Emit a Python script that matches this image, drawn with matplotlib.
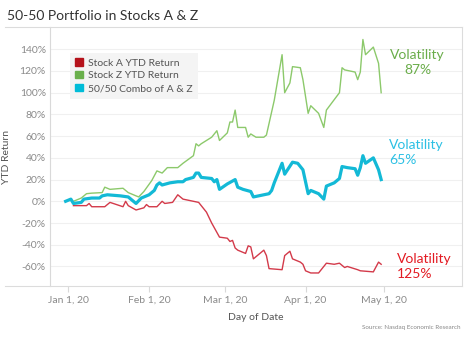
import pandas as pd
import matplotlib.pyplot as plt
from matplotlib.lines import Line2D
from matplotlib.patches import Patch

plt.rcParams['font.family'] = ['Lato', 'DejaVu Sans']

# Stock Z YTD return (%)
z_dates = ['2020-01-03', '2020-01-06', '2020-01-08', '2020-01-10', '2020-01-14', '2020-01-15',
           '2020-01-17', '2020-01-22', '2020-01-24', '2020-01-28', '2020-01-30', '2020-02-02',
           '2020-02-04', '2020-02-06', '2020-02-08', '2020-02-12', '2020-02-14', '2020-02-18',
           '2020-02-19', '2020-02-20', '2020-02-21', '2020-02-25', '2020-02-27', '2020-02-28',
           '2020-03-02', '2020-03-03', '2020-03-04', '2020-03-05', '2020-03-06', '2020-03-09',
           '2020-03-10', '2020-03-11', '2020-03-13', '2020-03-16', '2020-03-17', '2020-03-20',
           '2020-03-23', '2020-03-24', '2020-03-26', '2020-03-27', '2020-03-30', '2020-03-31',
           '2020-04-02', '2020-04-03', '2020-04-06', '2020-04-08', '2020-04-09', '2020-04-14',
           '2020-04-15', '2020-04-16', '2020-04-20', '2020-04-21', '2020-04-22', '2020-04-23',
           '2020-04-24', '2020-04-27', '2020-04-29', '2020-04-30']
z_ret = [0, 3, 7, 7.5, 8, 13,
         11, 12, 8, 4, 9, 19,
         28, 26, 31, 31, 35, 42,
         53, 51, 53, 59, 65, 56,
         63, 73, 73, 84, 68, 68,
         59, 62, 59, 59, 61, 93,
         135, 100, 109, 124, 123, 112,
         81, 88, 81, 68, 84, 100,
         123, 121, 119, 112, 119, 149,
         135, 142, 127, 100]

# Stock A YTD return (%)
a_dates = ['2020-01-03', '2020-01-08', '2020-01-09', '2020-01-10', '2020-01-15', '2020-01-17',
           '2020-01-22', '2020-01-23', '2020-01-24', '2020-01-27', '2020-01-30', '2020-01-31',
           '2020-02-01', '2020-02-04', '2020-02-06', '2020-02-07', '2020-02-10', '2020-02-12',
           '2020-02-14', '2020-02-20', '2020-02-23', '2020-02-25', '2020-02-28', '2020-03-02',
           '2020-03-03', '2020-03-04', '2020-03-05', '2020-03-06', '2020-03-09', '2020-03-10',
           '2020-03-11', '2020-03-12', '2020-03-16', '2020-03-17', '2020-03-18', '2020-03-23',
           '2020-03-24', '2020-03-26', '2020-03-27', '2020-03-30', '2020-03-31', '2020-04-01',
           '2020-04-03', '2020-04-06', '2020-04-09', '2020-04-12', '2020-04-14', '2020-04-16',
           '2020-04-17', '2020-04-21', '2020-04-22', '2020-04-27', '2020-04-29', '2020-04-30']
a_ret = [-4, -4, -2, -5, -5, -1,
         -5, 0, -4, -8, -6, -3,
         -5, -5, 0, -2, -1, 6,
         2, -1, -10, -20, -33, -34,
         -37, -36, -43, -45, -48, -41,
         -42, -53, -45, -50, -62, -63,
         -50, -46, -53, -56, -58, -64,
         -66, -66, -57, -58, -57, -61,
         -60, -63, -64, -65, -56, -58]

# 50/50 combination of A & Z (%)
c_dates = ['2019-12-31', '2020-01-02', '2020-01-03', '2020-01-06', '2020-01-07', '2020-01-10',
           '2020-01-13', '2020-01-14', '2020-01-16', '2020-01-21', '2020-01-24', '2020-01-27',
           '2020-01-29', '2020-02-01', '2020-02-03', '2020-02-04', '2020-02-05', '2020-02-06',
           '2020-02-09', '2020-02-12', '2020-02-14', '2020-02-15', '2020-02-18', '2020-02-19',
           '2020-02-20', '2020-02-21', '2020-02-25', '2020-02-26', '2020-02-27', '2020-02-28',
           '2020-03-02', '2020-03-05', '2020-03-06', '2020-03-08', '2020-03-11', '2020-03-12',
           '2020-03-16', '2020-03-18', '2020-03-19', '2020-03-20', '2020-03-23', '2020-03-24',
           '2020-03-27', '2020-03-29', '2020-03-31', '2020-04-02', '2020-04-03', '2020-04-06',
           '2020-04-08', '2020-04-09', '2020-04-12', '2020-04-14', '2020-04-15', '2020-04-17',
           '2020-04-20', '2020-04-21', '2020-04-22', '2020-04-23', '2020-04-24', '2020-04-27',
           '2020-04-29', '2020-04-30']
c_ret = [0, 2, -2, -1, 2, 3,
         3, 5, 6, 5, 4, -2,
         3, 6, 10, 15, 17, 15,
         17, 18, 18, 20, 22, 26,
         26, 22, 21, 18, 20, 11,
         16, 20, 13, 11, 9, 4,
         6, 7, 10, 17, 35, 25,
         36, 35, 29, 7, 10, 7,
         2, 14, 17, 21, 32, 31,
         30, 24, 31, 42, 35, 40,
         29, 20]

y_ticks = [-60, -40, -20, 0, 20, 40, 60, 80, 100, 120, 140]
x_ticks = ['2020-01-01', '2020-02-01', '2020-03-01', '2020-04-01', '2020-05-01']
x_tick_labels = ['Jan 1, 20', 'Feb 1, 20', 'Mar 1, 20', 'Apr 1, 20', 'May 1, 20']

red = '#d33a4a'
green = '#8cc96b'
cyan = '#13b9d6'

fig = plt.figure(figsize=(4.68, 3.40), dpi=100)
ax = fig.add_axes([50 / 468, 54 / 340, 412 / 468, 259 / 340])

ax.plot(pd.to_datetime(z_dates), z_ret, color=green, lw=1.0, zorder=3)
ax.plot(pd.to_datetime(a_dates), a_ret, color=red, lw=1.0, zorder=3)
ax.plot(pd.to_datetime(c_dates), c_ret, color=cyan, lw=2.3, zorder=4, solid_joinstyle='round')

ax.set_ylim(-78, 160.5)
ax.set_xlim(pd.Timestamp('2019-12-25'), pd.Timestamp('2020-05-31'))
ax.set_yticks(y_ticks)
ax.set_yticklabels([f'{v}%' for v in y_ticks])
ax.set_xticks(pd.to_datetime(x_ticks))
ax.set_xticklabels(x_tick_labels)
ax.tick_params(axis='y', length=0, labelsize=7.5, labelcolor='#8a8a8a', pad=3)
ax.tick_params(axis='x', length=4, color='#d9d9d9', labelsize=7.5, labelcolor='#8a8a8a', pad=3)
ax.grid(axis='y', color='#f0f0f0', lw=0.8)
ax.set_axisbelow(True)
for s in ['top', 'bottom', 'right']:
    ax.spines[s].set_visible(False)
ax.spines['left'].set_color('#d9d9d9')
ax.spines['left'].set_linewidth(0.8)

ax.set_ylabel('YTD Return', fontsize=7.5, color='#555555', labelpad=6)
ax.set_xlabel('Day of Date', fontsize=7.5, color='#555555', labelpad=6)

# frame lines around the view
fig.add_artist(Line2D([5 / 468, 462 / 468], [313 / 340, 313 / 340], color='#dcdcdc', lw=0.8))
fig.add_artist(Line2D([5 / 468, 462 / 468], [54 / 340, 54 / 340], color='#dcdcdc', lw=0.8))
fig.add_artist(Line2D([462 / 468, 462 / 468], [54 / 340, 313 / 340], color='#dcdcdc', lw=0.8))

fig.text(7 / 468, 324 / 340, '50-50 Portfolio in Stocks A & Z', fontsize=10, color='#333333',
         va='center', ha='left')
fig.text(461 / 468, 13 / 340, 'Source: Nasdaq Economic Research', fontsize=4.5, color='#888888',
         va='center', ha='right')

# volatility notes
ax.text(pd.Timestamp('2020-05-14'), 128, 'Volatility\n87%', color='#6aad4a', fontsize=10,
        ha='center', va='center', linespacing=1.25)
ax.text(pd.Timestamp('2020-05-03'), 45, 'Volatility\n65%', color='#2cc0e4', fontsize=10,
        ha='left', va='center', linespacing=1.25)
ax.text(pd.Timestamp('2020-05-06'), -60, 'Volatility\n125%', color='#e31b23', fontsize=10,
        ha='left', va='center', linespacing=1.25)

handles = [Patch(color='#b5121b'), Patch(color='#6ab04c'), Patch(color='#00bcd8')]
labels = ['Stock A YTD Return', 'Stock Z YTD Return', '50/50 Combo of A & Z']
leg = fig.legend(handles, labels, loc='upper left', bbox_to_anchor=(70 / 468, 287 / 340),
                 fontsize=7.5, frameon=True, fancybox=False, facecolor='#f4f4f4', edgecolor='none',
                 framealpha=1, handlelength=0.7, handleheight=0.7, handletextpad=0.5,
                 labelspacing=0.35, borderpad=0.5, borderaxespad=0)
for t in leg.get_texts():
    t.set_color('#555555')

fig.savefig('out.png', dpi=100)
